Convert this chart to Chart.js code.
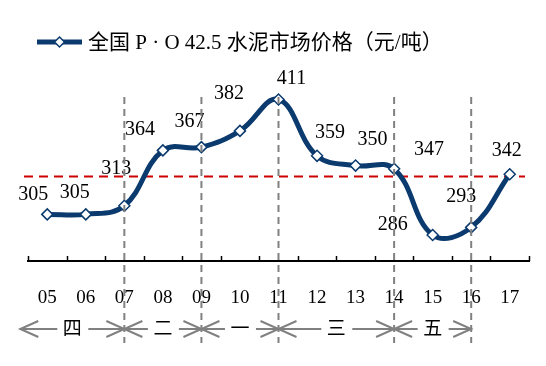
<!DOCTYPE html>
<html>
<head>
<meta charset="utf-8">
<script src="https://cdn.jsdelivr.net/npm/chart.js@4.4.1/dist/chart.umd.min.js"></script>
<style>
  html, body { margin: 0; padding: 0; background: #ffffff; }
  #wrap { width: 546px; height: 366px; }
</style>
</head>
<body>
<div id="wrap"><canvas id="c" width="546" height="366"></canvas></div>
<script>
// ---- data ----
const categories = ['05', '06', '07', '08', '09', '10', '11', '12', '13', '14', '15', '16', '17'];
const prices = [305, 305, 313, 364, 367, 382, 411, 359, 350, 347, 286, 293, 342];
const seriesName = '全国 P · O 42.5 水泥市场价格（元/吨）';
const averagePrice = 340;
const periodNames = ['四', '二', '一', '三', '五'];
const periodStart = [null, '07', '09', '11', '14'];
const periodEnd = ['07', '09', '11', '14', '16'];
const dividers = ['07', '09', '11', '14', '16'];

// ---- styles ----
const NAVY = '#0b3a6e';
const GREY = '#808080';
const SERIF = '"Liberation Serif", "Times New Roman", "Noto Sans CJK SC", serif';
const CJK = '"Liberation Serif", "Noto Sans CJK SC", serif';
// label offsets relative to each point (dx, dy)
const labelOffsets = [[-14,-20],[-11,-22],[-8,-37],[-23,-21],[-12,-25],[-11,-37],[13,-21],[13,-23],[17,-26],[35,-19],[-40,-10],[-10,-31],[-3,-24]];

const decorPlugin = {
  id: 'decor',
  beforeDatasetsDraw(chart) {
    const ctx = chart.ctx, ca = chart.chartArea, y = chart.scales.y;
    const yy = y.getPixelForValue(averagePrice);
    ctx.save();
    ctx.strokeStyle = '#cc0000';
    ctx.lineWidth = 2;
    ctx.setLineDash([9, 6]);
    ctx.beginPath();
    ctx.moveTo(ca.left - 4, yy);
    ctx.lineTo(ca.right - 4, yy);
    ctx.stroke();
    ctx.restore();
  },
  afterDatasetsDraw(chart) {
    const ctx = chart.ctx, ca = chart.chartArea, x = chart.scales.x;
    const meta = chart.getDatasetMeta(0);
    const step = x.getPixelForValue(1) - x.getPixelForValue(0);
    ctx.save();
    // value labels
    ctx.font = '20px ' + SERIF;
    ctx.fillStyle = '#000';
    ctx.textAlign = 'center';
    ctx.textBaseline = 'middle';
    meta.data.forEach((pt, i) => {
      const o = labelOffsets[i];
      ctx.fillText(String(prices[i]), pt.x + o[0], pt.y + o[1]);
    });
    // inward ticks on x axis
    ctx.strokeStyle = '#000';
    ctx.lineWidth = 1.5;
    ctx.setLineDash([]);
    for (let i = 0; i <= categories.length; i++) {
      const tx = Math.round(ca.left + i * step) + 0.5;
      ctx.beginPath();
      ctx.moveTo(tx, ca.bottom);
      ctx.lineTo(tx, ca.bottom - 5);
      ctx.stroke();
    }
    // vertical dividers
    ctx.strokeStyle = GREY;
    ctx.lineWidth = 2;
    ctx.setLineDash([7, 5]);
    dividers.forEach(d => {
      const dx = x.getPixelForValue(categories.indexOf(d));
      ctx.beginPath();
      ctx.moveTo(dx, 97);
      ctx.lineTo(dx, 343);
      ctx.stroke();
    });
    // period arrows
    ctx.setLineDash([]);
    const ay = 329;
    const head = (px, dir) => {
      ctx.beginPath();
      ctx.moveTo(px + dir * 18, ay - 8);
      ctx.lineTo(px, ay);
      ctx.lineTo(px + dir * 18, ay + 8);
      ctx.stroke();
    };
    ctx.font = '19px ' + CJK;
    ctx.fillStyle = '#000';
    periodNames.forEach((name, i) => {
      const x0 = periodStart[i] === null ? x.getPixelForValue(0) - 0.7 * step : x.getPixelForValue(categories.indexOf(periodStart[i]));
      const x1 = x.getPixelForValue(categories.indexOf(periodEnd[i]));
      const mid = (x0 + x1) / 2;
      ctx.strokeStyle = GREY;
      ctx.lineWidth = 2;
      ctx.beginPath();
      ctx.moveTo(x0, ay); ctx.lineTo(mid - 15, ay);
      ctx.moveTo(mid + 16, ay); ctx.lineTo(x1, ay);
      ctx.stroke();
      head(x0, 1);
      head(x1, -1);
      ctx.fillText(name, mid, ay + 1);
    });
    // legend
    const ly = 42;
    ctx.strokeStyle = NAVY;
    ctx.lineWidth = 5;
    ctx.beginPath();
    ctx.moveTo(37, ly); ctx.lineTo(82, ly);
    ctx.stroke();
    ctx.fillStyle = '#fff';
    ctx.lineWidth = 1.5;
    ctx.beginPath();
    ctx.moveTo(59.5, ly - 5); ctx.lineTo(64.5, ly); ctx.lineTo(59.5, ly + 5); ctx.lineTo(54.5, ly);
    ctx.closePath();
    ctx.fill(); ctx.stroke();
    ctx.fillStyle = '#000';
    ctx.textAlign = 'left';
    ctx.font = '21px ' + CJK;
    ctx.fillText(seriesName, 88, ly + 1);
    ctx.restore();
  }
};

new Chart(document.getElementById('c'), {
  type: 'line',
  data: {
    labels: categories,
    datasets: [{
      label: seriesName,
      data: prices,
      borderColor: NAVY,
      borderWidth: 5,
      tension: 0.4,
      pointStyle: 'rectRot',
      pointRadius: 5.5,
      pointBorderWidth: 1.5,
      pointBackgroundColor: '#ffffff',
      pointBorderColor: NAVY,
      clip: false
    }]
  },
  options: {
    responsive: false,
    devicePixelRatio: 1,
    animation: false,
    layout: { padding: { left: 28, right: 17, top: 68, bottom: 0 } },
    plugins: { legend: { display: false }, tooltip: { enabled: false } },
    scales: {
      x: {
        offset: true,
        grid: { display: false },
        border: { display: true, color: '#000', width: 2 },
        ticks: { color: '#000', font: { family: SERIF, size: 19 }, padding: 18, maxRotation: 0, autoSkip: false },
        afterFit(scale) { scale.height = 105; }
      },
      y: { display: false, min: 262, max: 440 }
    }
  },
  plugins: [decorPlugin]
});
</script>
</body>
</html>
